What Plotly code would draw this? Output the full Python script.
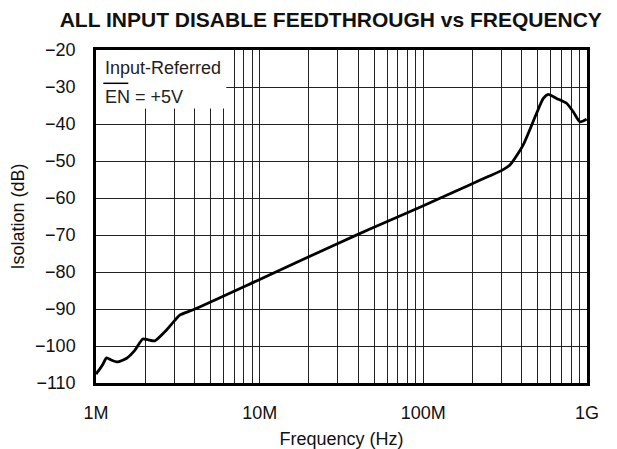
import plotly.graph_objects as go

# Data
freq_hz = [1.00e6, 1.04e6, 1.10e6, 1.16e6, 1.24e6, 1.35e6, 1.54e6, 1.73e6, 1.93e6, 2.07e6,
           2.29e6, 2.64e6, 3.04e6, 3.26e6, 3.93e6, 1.0e7, 3.1e7, 4.72e7, 1.0e8, 1.93e8,
           2.49e8, 3.0e8, 3.38e8, 4.07e8, 4.92e8, 5.41e8, 5.8e8, 6.52e8, 7.5e8, 8.24e8,
           9.06e8, 9.95e8]
isolation_db = [-107.6, -106.6, -105.0, -103.2, -103.8, -104.3, -103.3, -101.1, -98.1, -98.3,
                -98.6, -96.1, -93.0, -91.6, -90.2, -82.0, -72.0, -68.4, -62.1, -56.4,
                -54.2, -52.6, -51.1, -45.7, -37.1, -33.1, -32.0, -33.1, -34.4, -36.7,
                -39.4, -38.7]

x_major = [1e6, 1e7, 1e8, 1e9]
x_major_labels = ["1M", "10M", "100M", "1G"]
y_ticks = [-20, -30, -40, -50, -60, -70, -80, -90, -100, -110]
y_labels = ["\u221220", "\u221230", "\u221240", "\u221250", "\u221260", "\u221270",
            "\u221280", "\u221290", "\u2212100", "\u2212110"]

grid_vals = [m * 10 ** e for e in (6, 7, 8) for m in range(1, 10)] + [1e9]
grid_text = [x_major_labels[x_major.index(v)] if v in x_major else "" for v in grid_vals]

FONT = "Liberation Sans, Arial, Helvetica, sans-serif"

fig = go.Figure()
fig.add_trace(go.Scatter(
    x=freq_hz, y=isolation_db, mode="lines",
    line=dict(color="black", width=2.8, shape="spline", smoothing=0.6),
    hoverinfo="skip", showlegend=False,
))

# white legend box covering grid (shapes on log axes use data values)
fig.add_shape(type="rect", xref="x", yref="y", layer="between",
              x0=1.0e6, x1=6.25e6, y0=-20, y1=-35.8,
              fillcolor="white", line=dict(width=0))

fig.add_annotation(xref="paper", yref="paper", x=0.0143, y=0.9466, xanchor="left", yanchor="middle",
                   text="Input-Referred", showarrow=False,
                   font=dict(family=FONT, size=18, color="#222"))
fig.add_annotation(xref="paper", yref="paper", x=0.0143, y=0.8598, xanchor="left", yanchor="middle",
                   text="EN = +5V", showarrow=False,
                   font=dict(family=FONT, size=18, color="#222"))
# overline on EN
fig.add_shape(type="line", xref="paper", yref="paper", x0=0.0149, x1=0.0658, y0=0.900, y1=0.900,
              line=dict(color="black", width=1.5))

fig.update_layout(
    width=609, height=441,
    margin=dict(l=88, r=30, t=42, b=66, autoexpand=False),
    paper_bgcolor="white", plot_bgcolor="white",
    font=dict(family=FONT, size=18, color="#111"),
    title=dict(text="<b>ALL INPUT DISABLE FEEDTHROUGH vs FREQUENCY</b>",
               x=0.530, xanchor="center", y=0.973, yanchor="middle",
               font=dict(family=FONT, size=21, color="#111")),
)
fig.update_xaxes(
    type="log", range=[6, 9], automargin=False,
    tickvals=grid_vals, ticktext=grid_text, ticks="",
    showgrid=True, gridcolor="#222", gridwidth=1,
    showline=True, linecolor="black", linewidth=2.5, mirror=True,
    ticklabelstandoff=12,
    title=dict(text="Frequency (Hz)", standoff=12, font=dict(family=FONT, size=18, color="#111")),
    zeroline=False,
)
fig.update_yaxes(
    range=[-110, -20], automargin=False,
    tickvals=y_ticks, ticktext=y_labels, ticks="",
    showgrid=True, gridcolor="#222", gridwidth=1,
    showline=True, linecolor="black", linewidth=2.5, mirror=True,
    ticklabelstandoff=14,
    title=dict(text="Isolation (dB)", standoff=12, font=dict(family=FONT, size=18, color="#111")),
    zeroline=False,
)

fig.write_html("out.html")
